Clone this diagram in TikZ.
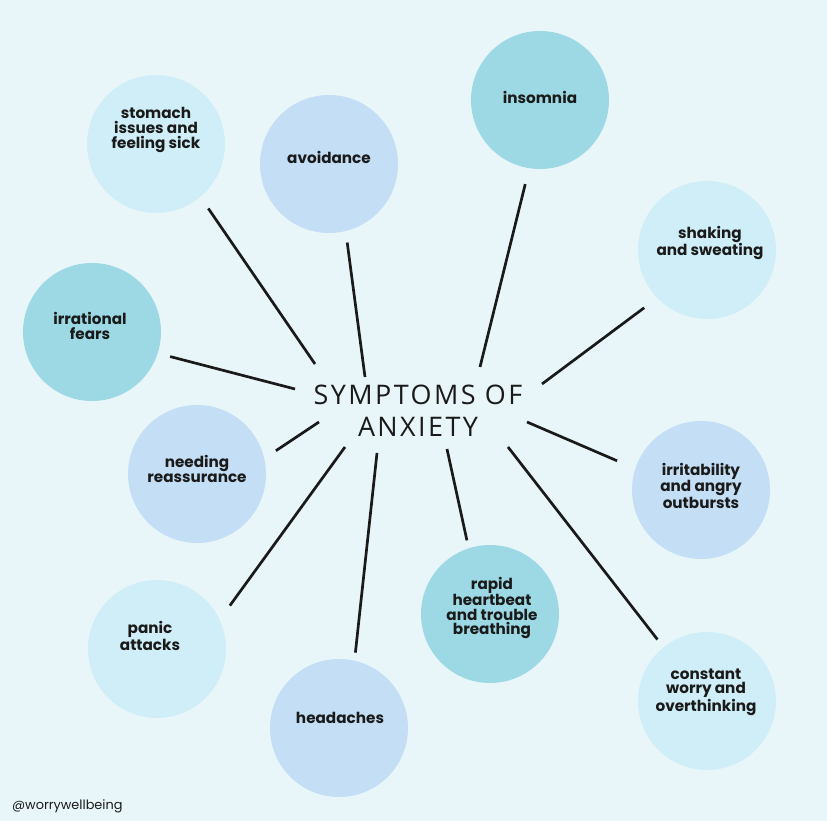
\documentclass[tikz,border=0pt]{standalone}
\usepackage{fontspec}
\setmainfont{Poppins}
\newfontfamily\hubfont[LetterSpace=9]{Open Sans}
\usetikzlibrary{positioning}
\definecolor{bgPale}  {HTML}{E9F6F9}
\definecolor{dotPale} {HTML}{CFEEF7}
\definecolor{dotSky}  {HTML}{C3DEF5}
\definecolor{dotTeal} {HTML}{9CD9E5}
\definecolor{inkDark} {HTML}{1A1A1A}
\tikzset{
  dot/.style    = {circle, minimum size=4.14cm, inner sep=0pt, outer sep=0pt},
  pale/.style   = {dot, fill=dotPale},
  sky/.style    = {dot, fill=dotSky},
  teal/.style   = {dot, fill=dotTeal},
  txt/.style    = {font=\bfseries\fontsize{13}{12.5}\selectfont, align=center,
                   text=inkDark, inner sep=0pt},
  spoke/.style  = {line width=2.3pt, color=inkDark},
}

\begin{document}
\begin{tikzpicture}[x=0.03cm, y=-0.03cm]

  % ---- canvas ----
  \fill[bgPale] (0,0) rectangle (827,821);
  \useasboundingbox (0,0) rectangle (827,821);

  % ---- hub ----
  \node[font=\hubfont\fontsize{23}{27}\selectfont, align=center, text=inkDark]
    (hub) at (418,411) {SYMPTOMS OF\\ANXIETY};

  % ---- symptom circles ----
  \node[pale] (stomach) at (156,144) {};
  \node[sky]  (avoid)   at (329,164) {};
  \node[teal] (insom)   at (540,100) {};
  \node[pale] (shake)   at (707,250) {};
  \node[teal] (fears)   at (92,332)  {};
  \node[sky]  (reass)   at (197,474) {};
  \node[sky]  (irrit)   at (701,490) {};
  \node[teal] (heart)   at (490,614) {};
  \node[pale] (panic)   at (157,649) {};
  \node[sky]  (head)    at (339,728) {};
  \node[pale] (worry)   at (707,701) {};

  % ---- labels ----
  \node[txt] (tStomach) at (156,130) {stomach\\issues and\\feeling sick};
  \node[txt] (tAvoid)   at (329,157) {avoidance};
  \node[txt] (tInsom)   at (540,97)  {insomnia};
  \node[txt] (tShake)   at (710,243) {shaking\\and sweating};
  \node[txt] (tFears)   at (90,326)  {irrational\\fears};
  \node[txt] (tReass)   at (197,469) {needing\\reassurance};
  \node[txt] (tIrrit)   at (701,486) {irritability\\and angry\\outbursts};
  \node[txt] (tHeart)   at (492,608) {rapid\\heartbeat\\and trouble\\breathing};
  \node[txt] (tPanic)   at (150,636) {panic\\attacks};
  \node[txt] (tHead)    at (340,718) {headaches};
  \node[txt] (tWorry)   at (706,692) {constant\\worry and\\overthinking};

  % ---- inner ends of the spokes ----
  \coordinate (hStomach) at (315,364);
  \coordinate (hAvoid)   at (365,377);
  \coordinate (hInsom)   at (480,367);
  \coordinate (hShake)   at (542,384);
  \coordinate (hFears)   at (295,389);
  \coordinate (hReass)   at (319,422);
  \coordinate (hIrrit)   at (527,422);
  \coordinate (hPanic)   at (345,447);
  \coordinate (hHead)    at (377,453);
  \coordinate (hHeart)   at (447,449);
  \coordinate (hWorry)   at (508,447);

  % ---- spokes ----
  \draw[spoke, shorten >=12pt]  (hStomach) -- (stomach.310);
  \draw[spoke, shorten >=10pt]  (hAvoid)   -- (avoid.284);
  \draw[spoke, shorten >=14pt]  (hInsom)   -- (insom.261);
  \draw[spoke, shorten >=14pt]  (hShake)   -- (shake.224);
  \draw[spoke, shorten >=11pt]  (hFears)   -- (fears.342);
  \draw[spoke, shorten >=12pt]  (hReass)   -- (reass.13);
  \draw[spoke, shorten >=17pt]  (hIrrit)   -- (irrit.162);
  \draw[spoke, shorten >=15pt]  (hPanic)   -- (panic.25);
  \draw[spoke, shorten >=7pt]   (hHead)    -- (head.77);
  \draw[spoke, shorten >=7pt]   (hHeart)   -- (heart.108);
  \draw[spoke, shorten >=8.5pt] (hWorry)   -- (worry.129);

  % ---- credit ----
  \node[font=\fontsize{11}{12}\selectfont, text=inkDark, anchor=west]
    (credit) at (8,806) {@worrywellbeing};

\end{tikzpicture}
\end{document}
